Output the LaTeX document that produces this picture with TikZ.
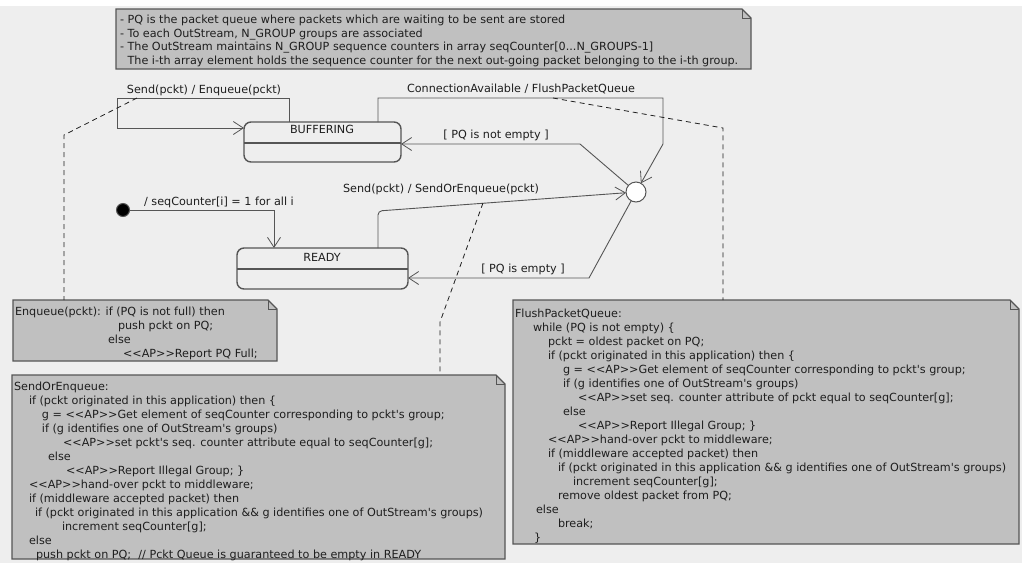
\documentclass[tikz,border=0pt]{standalone}
\usepackage{fontspec}
\setmainfont{DejaVu Sans}[Ligatures=TeXOff]
\usetikzlibrary{arrows.meta,calc}
\definecolor{bg}{HTML}{EEEEEE}
\definecolor{notefill}{HTML}{C0C0C0}
\definecolor{edge}{HTML}{555555}
\definecolor{ink}{HTML}{1E1E1E}
\newcommand\apos{\textquotesingle}
% folded-corner outline for a note node
\newcommand\foldnote[1]{%
  \filldraw[fill=notefill, draw=edge, line width=1.2pt, line join=miter]
    (#1.north west) -- ($(#1.north east)+(-9,0)$) -- ($(#1.north east)+(0,9)$)
    -- (#1.south east) -- (#1.south west) -- cycle;
  \draw[edge, line width=1pt] ($(#1.north east)+(-9,0)$) |- ($(#1.north east)+(0,9)$);
}
\begin{document}
\begin{tikzpicture}[x=1pt,y=-1pt,
  every node/.style={font=\fontsize{11.2}{14}\selectfont, text=ink, inner sep=0pt, outer sep=0pt},
  notearea/.style={anchor=north west},
  notetext/.style={anchor=north west, align=left},
  statebox/.style={draw=edge, line width=1.4pt, rounded corners=7pt, fill=bg, anchor=north west},
  trans/.style={draw=edge, line width=0.9pt, -{Straight Barb[length=10pt,width=13pt,line width=0.8pt]}},
  link/.style={draw=ink, line width=0.8pt, dash pattern=on 5pt off 4pt},
]
\useasboundingbox (0,0) rectangle (1022,563);
\fill[white] (0,0) rectangle (1022,563);
\fill[bg] (0,6) rectangle (1022,563);

% ---------- notes ----------
\node[notearea, minimum width=635, minimum height=60] (topnote) at (116,9) {};
\node[notearea, minimum width=264, minimum height=61] (enqnote) at (13,300) {};
\node[notearea, minimum width=493, minimum height=184] (sendnote) at (12,375) {};
\node[notearea, minimum width=506, minimum height=244] (flushnote) at (513,300) {};
\foldnote{topnote}
\foldnote{enqnote}
\foldnote{sendnote}
\foldnote{flushnote}

\node[notetext, font=\fontsize{11.2}{13.5}\selectfont] (toptext) at (120,15) {%
- PQ is the packet queue where packets which are waiting to be sent are stored\\
- To each OutStream, N\_GROUP groups are associated\\
- The OutStream maintains N\_GROUP sequence counters in array seqCounter[0...N\_GROUPS-1]\\
\phantom{- }The i-th array element holds the sequence counter for the next out-going packet belonging to the i-th group.};

\node[notetext] (enqtext) at (15,306.5) {%
Enqueue(pckt): if (PQ is not full) then\\
\hspace*{103pt}push pckt on PQ;\\
\hspace*{93pt}else\\
\hspace*{108pt}<<AP>>Report PQ Full;};

\node[notetext] (sendtext) at (14,381.5) {%
SendOrEnqueue:\\
\hspace*{15pt}if (pckt originated in this application) then \{\\
\hspace*{28pt}g = <<AP>>Get element of seqCounter corresponding to pckt\apos s group;\\
\hspace*{28pt}if (g identifies one of OutStream\apos s groups)\\
\hspace*{49pt}<<AP>>set pckt\apos s seq. counter attribute equal to seqCounter[g];\\
\hspace*{34pt}else\\
\hspace*{52pt}<<AP>>Report Illegal Group; \}\\
\hspace*{15pt}<<AP>>hand-over pckt to middleware;\\
\hspace*{15pt}if (middleware accepted packet) then\\
\hspace*{21pt}if (pckt originated in this application \&\& g identifies one of OutStream\apos s groups)\\
\hspace*{48pt}increment seqCounter[g];\\
\hspace*{15pt}else\\
\hspace*{22pt}push pckt on PQ;\ \ // Pckt Queue is guaranteed to be empty in READY};

\node[notetext] (flushtext) at (515,308.5) {%
FlushPacketQueue:\\
\hspace*{18pt}while (PQ is not empty) \{\\
\hspace*{33pt}pckt = oldest packet on PQ;\\
\hspace*{33pt}if (pckt originated in this application) then \{\\
\hspace*{48pt}g = <<AP>>Get element of seqCounter corresponding to pckt\apos s group;\\
\hspace*{48pt}if (g identifies one of OutStream\apos s groups)\\
\hspace*{63pt}<<AP>>set seq. counter attribute of pckt equal to seqCounter[g];\\
\hspace*{48pt}else\\
\hspace*{63pt}<<AP>>Report Illegal Group; \}\\
\hspace*{33pt}<<AP>>hand-over pckt to middleware;\\
\hspace*{33pt}if (middleware accepted packet) then\\
\hspace*{43pt}if (pckt originated in this application \&\& g identifies one of OutStream\apos s groups)\\
\hspace*{58pt}increment seqCounter[g];\\
\hspace*{43pt}remove oldest packet from PQ;\\
\hspace*{21pt}else\\
\hspace*{43pt}break;\\
\hspace*{19pt}\}};

% ---------- states ----------
\node[statebox, minimum width=157, minimum height=40] (buffering) at (244,122) {};
\draw[edge, line width=1.2pt] (buffering.west |- 0,143) -- (buffering.east |- 0,143);
\node (buflabel) at (322,129) {BUFFERING};

\node[statebox, minimum width=171, minimum height=41] (ready) at (237,248) {};
\draw[edge, line width=1.2pt] (ready.west |- 0,269) -- (ready.east |- 0,269);
\node (readylabel) at (322,257) {READY};

\node[circle, fill=black, draw=edge, line width=1pt, minimum size=13] (init) at (123,210) {};
\node[circle, fill=white, draw=edge, line width=1pt, minimum size=20] (junction) at (636,192) {};

% ---------- transition labels ----------
\node (lblenq) at (204,90) {Send(pckt) / Enqueue(pckt)};
\node (lblconn) at (521,89) {ConnectionAvailable / FlushPacketQueue};
\node (lblnotempty) at (496,135) {[ PQ is not empty ]};
\node (lblsend) at (441,189) {Send(pckt) / SendOrEnqueue(pckt)};
\node (lblempty) at (523,269) {[ PQ is empty ]};
\node (lblinit) at (219,202) {/ seqCounter[i] = 1 for all i};

% ---------- transitions ----------
\draw[trans] ([xshift=45pt]buffering.north west) |- (117,98) |- (buffering.west |- 0,128);
\draw[trans] ([xshift=134pt]buffering.north west) |- (663,98) -- (663,144) -- (junction);
\draw[trans] (junction) -- (580,144) -- (buffering.east |- 0,144);
\draw[trans, rounded corners=4pt] ([xshift=141pt]ready.north west) -- (378,211) -- (junction);
\draw[trans] (junction) -- (589,278) -- (ready.east |- 0,278);
\draw[trans] (init) -- (274,210) -- (274,210 |- ready.north);

% ---------- note anchors ----------
\coordinate (enqanchor) at (137,98);
\coordinate (sendanchor) at (483,203);
\coordinate (connanchor) at (553,98);
\draw[link] (enqanchor) -- (64,135) -- (64,135 |- enqnote.north);
\draw[link] (sendanchor) -- (440,322) -- (440,322 |- sendnote.north);
\draw[link] (connanchor) -- (723,128) -- (723,128 |- flushnote.north);
\end{tikzpicture}
\end{document}
